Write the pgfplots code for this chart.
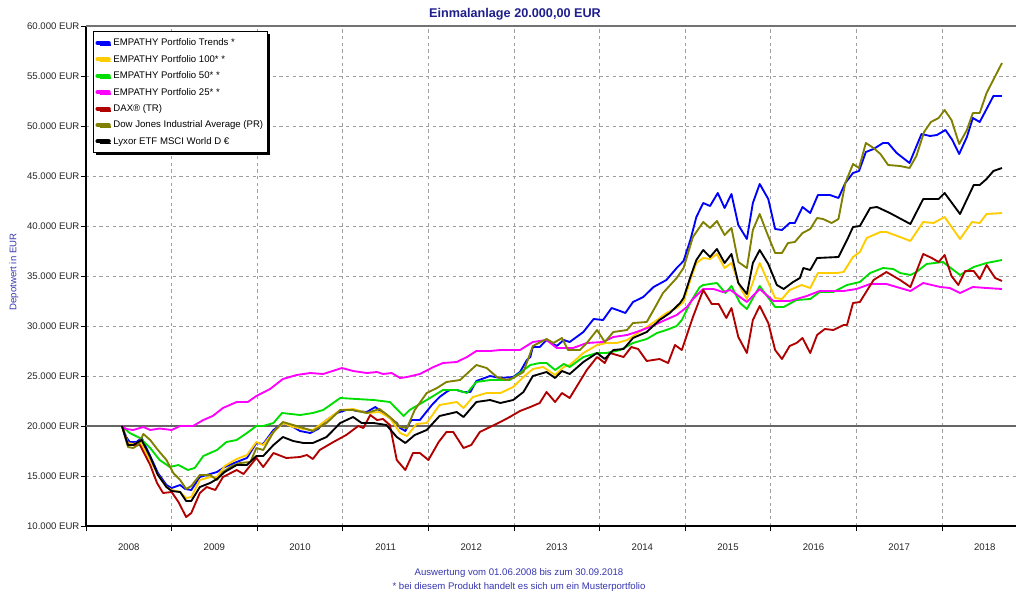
\documentclass[border=0pt]{standalone}
\usepackage{fontspec}
\setmainfont{Liberation Sans}
\usepackage{pgfplots}
\pgfplotsset{compat=1.18}
\usetikzlibrary{shadows}
\definecolor{cBlue}{HTML}{0000FF}
\definecolor{cYellow}{HTML}{FFCC00}
\definecolor{cGreen}{HTML}{00DD00}
\definecolor{cMagenta}{HTML}{FF00FF}
\definecolor{cRed}{HTML}{B00000}
\definecolor{cOlive}{HTML}{808000}
\definecolor{cTitle}{HTML}{1E1E8C}
\definecolor{cFoot}{HTML}{3535B0}
\newcommand{\tf}{\fontsize{7.2}{8.6}\selectfont}
\begin{document}
\begin{tikzpicture}[x=0.75pt,y=0.75pt]
\useasboundingbox (0,0) rectangle (1016,594);
\begin{axis}[
  at={(64.5pt,51pt)}, anchor=south west,
  scale only axis, width=697.5pt, height=375pt,
  xmin=2008, xmax=2018.864, ymin=10000, ymax=60000,
  enlargelimits=false,
  scaled y ticks=false, scaled x ticks=false,
  axis x line*=bottom, axis y line*=left,
  axis line style={black, line width=1.1pt, -},
  tick align=outside,
  major tick length=3.75pt, minor tick length=2.2pt,
  every tick/.style={black, line width=0.6pt},
  xtick={2008,2009,...,2018}, xticklabels={},
  minor x tick num=3,
  extra x ticks={2008.5,2009.5,...,2018.5},
  extra x tick labels={2008,2009,2010,2011,2012,2013,2014,2015,2016,2017,2018},
  extra x tick style={major tick length=0pt, xmajorgrids=false,
     tick label style={anchor=base, yshift=-18.5pt}},
  ytick={10000,15000,...,60000},
  yticklabels={10.000 EUR,15.000 EUR,20.000 EUR,25.000 EUR,30.000 EUR,35.000 EUR,40.000 EUR,45.000 EUR,50.000 EUR,55.000 EUR,60.000 EUR},
  yticklabel style={inner sep=1pt},
  tick label style={font=\tf, text=black!85},
  xmajorgrids, ymajorgrids,
  major grid style={gray!75, line width=0.7pt, dash pattern=on 2.5pt off 2.5pt},
  legend style={at={(0.0075,0.99)}, anchor=north west, draw=black, line width=0.7pt,
     fill=white, font=\tf, inner xsep=1.5pt, inner ysep=2.5pt,
     drop shadow={shadow xshift=1.6pt, shadow yshift=-1.6pt, fill=black, opacity=1},
     nodes={inner sep=2pt, text height=6.3pt, text depth=2pt}},
  legend cell align=left,
  legend image code/.code={\draw[line width=3pt, line cap=round] (1.5pt,0pt) -- (10pt,0pt);},
  every axis plot/.append style={line width=1.4pt, line join=round},
]
\draw[black!60, line width=1.1pt] (axis cs:2008,20000) -- (axis cs:2018.864,20000);
\draw[black!55, line width=0.9pt] (axis cs:2008,60000) -- (axis cs:2018.864,60000);

% EMPATHY Portfolio Trends
\addplot[cBlue] table {
2008.42 20000
2008.47 18900
2008.51 18400
2008.59 18400
2008.65 18800
2008.75 17000
2008.84 15300
2008.94 14100
2009.00 13800
2009.10 14100
2009.16 13700
2009.23 13600
2009.33 14900
2009.45 15200
2009.53 15400
2009.62 15900
2009.76 16400
2009.88 16800
2009.99 18300
2010.07 18200
2010.19 19600
2010.30 20300
2010.42 19900
2010.50 19500
2010.62 19300
2010.71 19700
2010.81 20600
2010.93 21300
2011.04 21600
2011.12 21600
2011.16 21500
2011.28 21400
2011.38 21900
2011.47 21300
2011.63 20300
2011.67 19800
2011.73 19500
2011.80 20600
2011.90 20600
2012.04 22100
2012.13 22900
2012.21 23400
2012.25 23600
2012.33 23600
2012.41 23400
2012.49 23400
2012.56 24500
2012.72 25000
2012.84 24800
2012.99 24900
2013.07 25400
2013.15 26600
2013.19 26900
2013.22 27900
2013.30 27900
2013.38 28600
2013.50 28000
2013.58 28600
2013.65 28400
2013.81 29400
2013.93 30700
2014.04 30600
2014.14 31800
2014.24 31500
2014.30 31300
2014.39 32400
2014.51 32900
2014.63 33900
2014.78 34600
2014.90 35800
2014.98 36500
2015.06 38600
2015.13 40900
2015.21 42300
2015.29 42000
2015.38 43300
2015.46 41800
2015.54 43200
2015.62 40100
2015.72 38700
2015.79 42300
2015.87 44200
2015.97 42700
2016.05 39700
2016.13 39600
2016.22 40300
2016.28 40300
2016.37 41900
2016.46 41300
2016.55 43100
2016.69 43100
2016.79 42800
2016.87 44300
2016.96 45300
2017.03 45500
2017.11 47400
2017.20 47700
2017.31 48300
2017.37 48300
2017.47 47300
2017.62 46300
2017.76 49200
2017.86 49000
2017.94 49100
2018.04 49600
2018.12 48600
2018.20 47200
2018.29 48900
2018.36 50800
2018.44 50400
2018.52 51700
2018.60 53000
2018.70 53000
};
\addlegendentry{EMPATHY Portfolio Trends *}

% EMPATHY Portfolio 100
\addplot[cYellow] table {
2008.42 20000
2008.49 18300
2008.55 18200
2008.63 18400
2008.75 16600
2008.84 15100
2008.94 13900
2009.00 13600
2009.10 13400
2009.17 12800
2009.23 12900
2009.33 14600
2009.45 14900
2009.53 14900
2009.62 16000
2009.76 16700
2009.88 17100
2009.99 18400
2010.07 18100
2010.19 19400
2010.30 20300
2010.42 19900
2010.54 19700
2010.65 19600
2010.81 20600
2010.97 21600
2011.12 21700
2011.28 21300
2011.43 21400
2011.55 20800
2011.67 19300
2011.75 19000
2011.86 20200
2011.98 20300
2012.13 22100
2012.33 22400
2012.41 21800
2012.52 22900
2012.68 23300
2012.84 23300
2012.99 23900
2013.11 24900
2013.22 25700
2013.34 25900
2013.48 25100
2013.58 25900
2013.65 26100
2013.81 27300
2013.97 28100
2014.08 28300
2014.20 28300
2014.32 28600
2014.43 29200
2014.55 29900
2014.67 30600
2014.78 31300
2014.90 31800
2014.98 32400
2015.06 34600
2015.13 36300
2015.21 36800
2015.29 36700
2015.37 37200
2015.46 35800
2015.54 36300
2015.64 33900
2015.72 32700
2015.87 36300
2016.05 32800
2016.13 32700
2016.22 33600
2016.36 34100
2016.46 33800
2016.55 35300
2016.77 35300
2016.85 35400
2016.96 36900
2017.04 37400
2017.12 38800
2017.28 39400
2017.35 39400
2017.51 38900
2017.63 38500
2017.78 40400
2017.90 40300
2018.03 40900
2018.21 38700
2018.35 40400
2018.44 40300
2018.52 41200
2018.70 41300
};
\addlegendentry{EMPATHY Portfolio 100* *}

% EMPATHY Portfolio 50
\addplot[cGreen] table {
2008.42 20000
2008.51 19300
2008.63 18800
2008.75 17800
2008.86 16600
2008.98 15900
2009.08 16100
2009.19 15600
2009.27 15800
2009.37 17000
2009.53 17600
2009.64 18400
2009.76 18600
2009.88 19300
2009.99 20000
2010.07 20000
2010.19 20300
2010.29 21300
2010.50 21100
2010.65 21300
2010.77 21600
2010.97 22800
2011.16 22700
2011.36 22600
2011.55 22400
2011.71 21000
2011.78 21600
2011.98 22600
2012.17 23600
2012.33 23600
2012.45 23300
2012.56 24400
2012.72 24600
2012.95 24600
2013.07 25300
2013.19 26100
2013.30 26300
2013.38 26300
2013.48 25600
2013.58 26200
2013.65 25900
2013.81 26900
2013.97 27300
2014.08 27300
2014.24 27600
2014.39 28300
2014.55 28700
2014.67 29300
2014.78 29600
2014.90 30000
2014.96 30600
2015.07 32500
2015.17 33900
2015.21 34100
2015.37 34300
2015.47 33300
2015.54 34000
2015.64 32300
2015.72 31700
2015.87 34000
2016.05 31900
2016.15 31900
2016.30 32600
2016.46 32700
2016.57 33400
2016.73 33400
2016.89 34100
2017.04 34400
2017.16 35300
2017.31 35800
2017.43 35700
2017.51 35300
2017.63 35100
2017.70 35400
2017.82 36200
2018.01 36400
2018.21 35100
2018.37 35900
2018.52 36300
2018.70 36600
};
\addlegendentry{EMPATHY Portfolio 50* *}

% EMPATHY Portfolio 25
\addplot[cMagenta] table {
2008.42 20000
2008.47 19700
2008.55 19600
2008.67 19900
2008.75 19600
2008.86 19750
2009.00 19600
2009.10 20000
2009.25 20000
2009.37 20600
2009.48 21000
2009.60 21800
2009.76 22400
2009.89 22400
2009.99 23000
2010.15 23700
2010.30 24700
2010.46 25100
2010.62 25300
2010.77 25200
2010.99 25800
2011.12 25500
2011.28 25300
2011.40 25400
2011.47 25200
2011.57 25300
2011.67 24800
2011.75 24900
2011.90 25200
2012.06 25900
2012.17 26300
2012.33 26400
2012.45 26900
2012.56 27500
2012.72 27500
2012.84 27600
2013.07 27600
2013.22 28400
2013.38 28600
2013.50 27800
2013.69 27800
2013.85 28300
2014.04 28400
2014.16 28900
2014.32 29100
2014.43 29400
2014.59 29900
2014.74 30500
2014.90 31100
2015.02 31900
2015.09 32700
2015.21 33700
2015.33 33700
2015.44 33400
2015.53 33600
2015.64 32900
2015.72 32400
2015.87 33700
2016.03 32500
2016.22 32500
2016.42 33000
2016.57 33500
2016.85 33500
2017.00 33700
2017.16 34200
2017.35 34200
2017.63 33500
2017.78 34300
2017.98 33900
2018.09 33800
2018.21 33300
2018.36 33900
2018.52 33800
2018.70 33700
};
\addlegendentry{EMPATHY Portfolio 25* *}

% DAX (TR)
\addplot[cRed] table {
2008.42 20000
2008.49 18100
2008.63 18100
2008.75 16100
2008.83 14300
2008.90 13300
2009.00 13400
2009.08 12400
2009.17 10900
2009.23 11300
2009.33 13300
2009.41 13900
2009.51 13600
2009.60 14900
2009.76 15600
2009.84 15200
2009.99 16800
2010.07 15900
2010.19 17300
2010.34 16800
2010.50 16900
2010.58 17100
2010.65 16700
2010.73 17600
2010.89 18400
2011.04 19100
2011.18 20000
2011.24 19800
2011.32 21100
2011.40 20600
2011.47 20700
2011.55 20100
2011.63 16600
2011.73 15600
2011.82 17300
2011.90 17300
2012.00 16600
2012.12 18400
2012.21 19400
2012.29 19400
2012.41 17800
2012.50 18100
2012.60 19400
2012.72 19900
2012.84 20400
2012.95 20900
2013.07 21500
2013.19 21900
2013.30 22300
2013.38 23400
2013.48 22400
2013.56 23300
2013.65 22800
2013.85 25600
2013.97 26900
2014.06 26300
2014.12 27300
2014.28 26900
2014.37 27900
2014.45 27700
2014.55 26500
2014.70 26700
2014.80 26300
2014.88 28100
2014.96 27600
2015.09 30900
2015.21 33600
2015.31 32200
2015.39 32200
2015.48 30800
2015.54 31800
2015.62 28900
2015.72 27300
2015.79 30600
2015.87 32000
2015.97 30300
2016.05 27600
2016.13 26700
2016.22 28000
2016.30 28300
2016.37 28800
2016.46 27300
2016.54 29100
2016.63 29700
2016.73 29600
2016.85 30100
2016.89 30100
2016.96 32300
2017.04 32400
2017.20 34600
2017.35 35400
2017.51 34600
2017.63 33900
2017.78 37200
2017.88 36800
2017.96 36400
2018.03 37100
2018.11 35000
2018.19 34100
2018.27 35500
2018.37 35500
2018.44 34700
2018.52 36100
2018.62 34800
2018.70 34500
};
\addlegendentry{DAX® (TR)}

% Dow Jones Industrial Average (PR)
\addplot[cOlive] table {
2008.42 20000
2008.49 17900
2008.55 17800
2008.61 18100
2008.67 19200
2008.75 18600
2008.84 17600
2008.94 16600
2009.02 15300
2009.10 14600
2009.17 13700
2009.23 14000
2009.33 15100
2009.45 15100
2009.53 14600
2009.60 15400
2009.70 16000
2009.80 16300
2009.92 16400
2009.99 17800
2010.07 17600
2010.19 19400
2010.30 20400
2010.42 20100
2010.54 19800
2010.65 19500
2010.81 20300
2010.97 21600
2011.12 21600
2011.28 21300
2011.43 21700
2011.55 20900
2011.67 19900
2011.75 19800
2011.84 21600
2011.98 23300
2012.10 23800
2012.21 24400
2012.37 24600
2012.56 26100
2012.68 25800
2012.80 24900
2012.91 24600
2012.99 24800
2013.11 25400
2013.22 28000
2013.38 28700
2013.46 28300
2013.56 28800
2013.63 27600
2013.77 27600
2013.85 28300
2013.97 29600
2014.06 28400
2014.16 29400
2014.32 29600
2014.39 30300
2014.55 30400
2014.63 31600
2014.74 33300
2014.90 34800
2014.98 35800
2015.09 38900
2015.21 40400
2015.29 39800
2015.37 40500
2015.46 39100
2015.54 39800
2015.62 36400
2015.72 35800
2015.79 39600
2015.87 41200
2015.95 39400
2016.05 37300
2016.13 37300
2016.20 38300
2016.28 38400
2016.37 39300
2016.46 39700
2016.54 40800
2016.61 40700
2016.71 40300
2016.79 40700
2016.87 44300
2016.96 46200
2017.03 45800
2017.11 48300
2017.20 47800
2017.28 47200
2017.37 46100
2017.51 46000
2017.62 45800
2017.70 47000
2017.79 49400
2017.87 50400
2017.96 50800
2018.03 51600
2018.11 50600
2018.20 48200
2018.29 49600
2018.36 51300
2018.44 51300
2018.52 53300
2018.61 54800
2018.70 56300
};
\addlegendentry{Dow Jones Industrial Average (PR)}

% Lyxor ETF MSCI World D EUR
\addplot[black] table {
2008.42 20000
2008.49 18100
2008.55 18100
2008.65 18600
2008.75 16900
2008.84 15100
2008.94 13900
2009.00 13500
2009.10 13400
2009.17 12500
2009.23 12500
2009.33 13900
2009.45 14300
2009.53 14700
2009.62 15400
2009.76 16100
2009.88 16100
2009.99 17000
2010.07 17000
2010.19 18100
2010.30 18900
2010.42 18500
2010.54 18300
2010.65 18300
2010.81 18900
2010.97 20300
2011.12 20900
2011.22 20300
2011.36 20300
2011.51 20100
2011.63 18900
2011.73 18300
2011.84 19100
2011.98 19600
2012.13 21000
2012.33 21400
2012.41 20900
2012.56 22400
2012.72 22600
2012.84 22300
2012.99 22600
2013.11 23400
2013.22 25000
2013.38 25400
2013.48 24800
2013.56 25500
2013.65 25200
2013.81 26400
2013.97 27300
2014.06 26700
2014.16 27600
2014.28 27700
2014.39 28800
2014.55 29400
2014.70 30600
2014.82 31300
2014.94 32300
2014.98 32800
2015.06 34900
2015.13 36600
2015.21 37600
2015.29 36900
2015.37 37700
2015.46 36300
2015.54 37200
2015.62 34300
2015.72 33200
2015.79 36300
2015.87 37600
2015.97 36200
2016.07 34100
2016.15 33700
2016.26 34400
2016.34 34800
2016.38 35800
2016.46 35600
2016.54 36800
2016.79 36900
2016.89 38600
2016.96 39900
2017.04 40000
2017.16 41800
2017.24 41900
2017.39 41300
2017.63 40200
2017.78 42700
2017.96 42700
2018.03 43300
2018.21 41200
2018.37 44100
2018.44 44100
2018.52 44700
2018.60 45500
2018.70 45800
};
\addlegendentry{Lyxor ETF MSCI World D €}
\end{axis}
\node[font=\bfseries\fontsize{9.5}{11}\selectfont, text=cTitle] at (515,580) {Einmalanlage 20.000,00 EUR};
\node[font=\tf, text=cFoot, rotate=90] at (14,322) {Depotwert in EUR};
\node[font=\tf, text=cFoot] at (519,21) {Auswertung vom 01.06.2008 bis zum 30.09.2018};
\node[font=\tf, text=cFoot] at (519,7) {* bei diesem Produkt handelt es sich um ein Musterportfolio};
\end{tikzpicture}
\end{document}
